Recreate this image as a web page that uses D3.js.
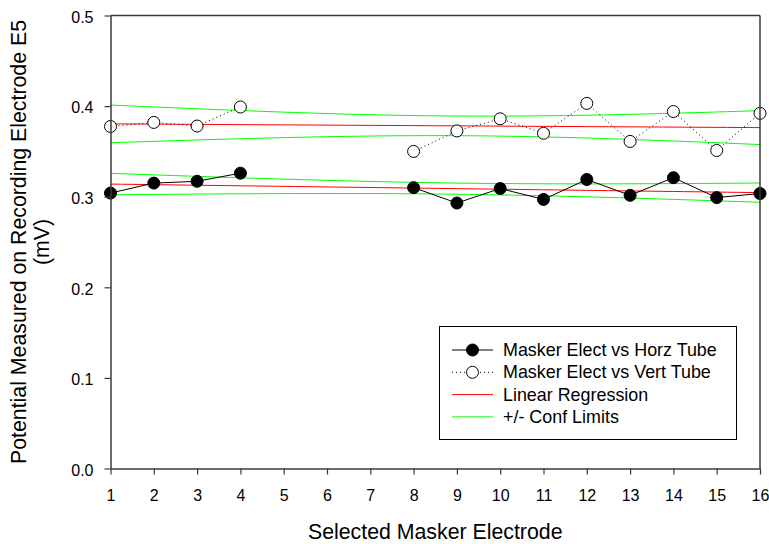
<!DOCTYPE html>
<html>
<head>
<meta charset="utf-8">
<script src="https://cdn.jsdelivr.net/npm/d3@7"></script>
<style>
  html, body { margin: 0; padding: 0; background: #fff; }
  svg { display: block; font-family: Arial, "Liberation Sans", sans-serif; }
</style>
</head>
<body>
<svg id="chart" width="769" height="544"></svg>
<script>
// Masker electrode numbers; electrodes 5-7 were not measured (null)
const electrodes = d3.range(1, 17);
// Potential on recording electrode E5 (mV)
const horzTube = [0.304, 0.315, 0.317, 0.326, null, null, null, 0.310, 0.293, 0.309, 0.297, 0.319, 0.3015, 0.321, 0.299, 0.3035];
const vertTube = [0.3775, 0.382, 0.378, 0.399, null, null, null, 0.350, 0.3726, 0.386, 0.370, 0.403, 0.361, 0.394, 0.351, 0.392];

const xTicks = d3.range(1, 17);
const yTicks = [0, 0.1, 0.2, 0.3, 0.4, 0.5];

const svg = d3.select("#chart");
const plotLeft = 110.5, plotRight = 760, plotTop = 15.5, plotBottom = 468.5;

const x = d3.scaleLinear().domain([1, 16]).range([plotLeft, plotRight]);
const y = d3.scaleLinear().domain([0, 0.5]).range([plotBottom, plotTop]);

const pts = vals => electrodes.map((e, i) => ({ x: e, v: vals[i] }));

// Least-squares fit with 95% confidence band for the mean
function regression(points) {
  const valid = points.filter(p => p.v != null);
  const xs = valid.map(p => p.x), ys = valid.map(p => p.v);
  const n = xs.length;
  const mx = d3.mean(xs), my = d3.mean(ys);
  let sxx = 0, sxy = 0;
  xs.forEach((v, i) => { sxx += (v - mx) ** 2; sxy += (v - mx) * (ys[i] - my); });
  const b = sxy / sxx, a = my - b * mx;
  let sse = 0;
  xs.forEach((v, i) => { sse += (ys[i] - (a + b * v)) ** 2; });
  const s = Math.sqrt(sse / (n - 2));
  const t = 2.201; // t(0.975, 11 df)
  const grid = d3.range(1, 16.001, 0.25);
  return grid.map(g => {
    const fit = a + b * g;
    const h = t * s * Math.sqrt(1 / n + (g - mx) ** 2 / sxx);
    return { x: g, fit, lo: fit - h, hi: fit + h };
  });
}

const bandLine = key => d3.line().x(d => x(d.x)).y(d => y(d[key]));

[horzTube, vertTube].forEach(vals => {
  const reg = regression(pts(vals));
  ["hi", "lo"].forEach(k => {
    svg.append("path").datum(reg).attr("d", bandLine(k))
      .attr("fill", "none").attr("stroke", "#00ff00").attr("stroke-width", 1);
  });
  svg.append("path").datum(reg).attr("d", bandLine("fit"))
    .attr("fill", "none").attr("stroke", "#ff0000").attr("stroke-width", 1);
});

const dataLine = d3.line().defined(d => d.v != null).x(d => x(d.x)).y(d => y(d.v));

svg.append("path").datum(pts(horzTube)).attr("d", dataLine)
  .attr("fill", "none").attr("stroke", "#000").attr("stroke-width", 1);
svg.append("path").datum(pts(vertTube)).attr("d", dataLine)
  .attr("fill", "none").attr("stroke", "#000").attr("stroke-width", 1)
  .attr("stroke-dasharray", "1,3");

svg.append("g").selectAll("circle").data(pts(horzTube).filter(d => d.v != null)).join("circle")
  .attr("cx", d => x(d.x)).attr("cy", d => y(d.v)).attr("r", 6)
  .attr("fill", "#000").attr("stroke", "#000");
svg.append("g").selectAll("circle").data(pts(vertTube).filter(d => d.v != null)).join("circle")
  .attr("cx", d => x(d.x)).attr("cy", d => y(d.v)).attr("r", 6)
  .attr("fill", "#fff").attr("stroke", "#000").attr("stroke-width", 1);

// Frame and axes
const axisColor = "#3a3a3a";
svg.append("line").attr("x1", plotLeft).attr("x2", plotRight).attr("y1", plotTop).attr("y2", plotTop)
  .attr("stroke", axisColor).attr("stroke-width", 1.5);
svg.append("line").attr("x1", plotRight).attr("x2", plotRight).attr("y1", plotTop).attr("y2", plotBottom)
  .attr("stroke", axisColor).attr("stroke-width", 1.5);

const xAxis = svg.append("g").attr("transform", `translate(0,${plotBottom})`)
  .call(d3.axisBottom(x).tickValues(xTicks).tickFormat(d3.format("d")).tickSizeInner(6).tickSizeOuter(0).tickPadding(15));
const yAxis = svg.append("g").attr("transform", `translate(${plotLeft},0)`)
  .call(d3.axisLeft(y).tickValues(yTicks).tickFormat(d3.format(".1f")).tickSizeInner(6).tickSizeOuter(0).tickPadding(11));
[xAxis, yAxis].forEach(g => {
  g.select(".domain").attr("stroke", axisColor).attr("stroke-width", 1.5);
  g.selectAll(".tick line").attr("stroke", axisColor).attr("stroke-width", 1.2);
  g.selectAll(".tick text").attr("font-size", 16).attr("fill", "#000")
    .attr("font-family", "Arial, 'Liberation Sans', sans-serif");
});
yAxis.selectAll(".tick text").attr("dy", "0.42em");

// Axis titles
svg.append("text").attr("x", (plotLeft + plotRight) / 2).attr("y", 538.5)
  .attr("text-anchor", "middle").attr("font-size", 21.3).text("Selected Masker Electrode");
const yMid = 242;
svg.append("text").attr("transform", `translate(25.5,${yMid}) rotate(-90)`)
  .attr("text-anchor", "middle").attr("font-size", 21.3)
  .text("Potential Measured on Recording Electrode E5");
svg.append("text").attr("transform", `translate(48.5,${yMid}) rotate(-90)`)
  .attr("text-anchor", "middle").attr("font-size", 21.3).text("(mV)");

// Legend
const lg = svg.append("g");
lg.append("rect").attr("x", 439.5).attr("y", 326.5).attr("width", 297).attr("height", 113)
  .attr("fill", "#fff").attr("stroke", "#000").attr("stroke-width", 1);
const items = [
  { label: "Masker Elect vs Horz Tube", color: "#000", dash: null, marker: "#000" },
  { label: "Masker Elect vs Vert Tube", color: "#000", dash: "1,3", marker: "#fff" },
  { label: "Linear Regression", color: "#ff0000", dash: null, marker: null },
  { label: "+/- Conf Limits", color: "#00ff00", dash: null, marker: null }
];
items.forEach((it, i) => {
  const cy = 350 + i * 22.3;
  lg.append("line").attr("x1", 452).attr("x2", 493).attr("y1", cy).attr("y2", cy)
    .attr("stroke", it.color).attr("stroke-width", 1).attr("stroke-dasharray", it.dash);
  if (it.marker) {
    lg.append("circle").attr("cx", 472.5).attr("cy", cy).attr("r", 6)
      .attr("fill", it.marker).attr("stroke", "#000");
  }
  lg.append("text").attr("x", 503).attr("y", cy + 6).attr("font-size", 17.9).text(it.label);
});
</script>
</body>
</html>
